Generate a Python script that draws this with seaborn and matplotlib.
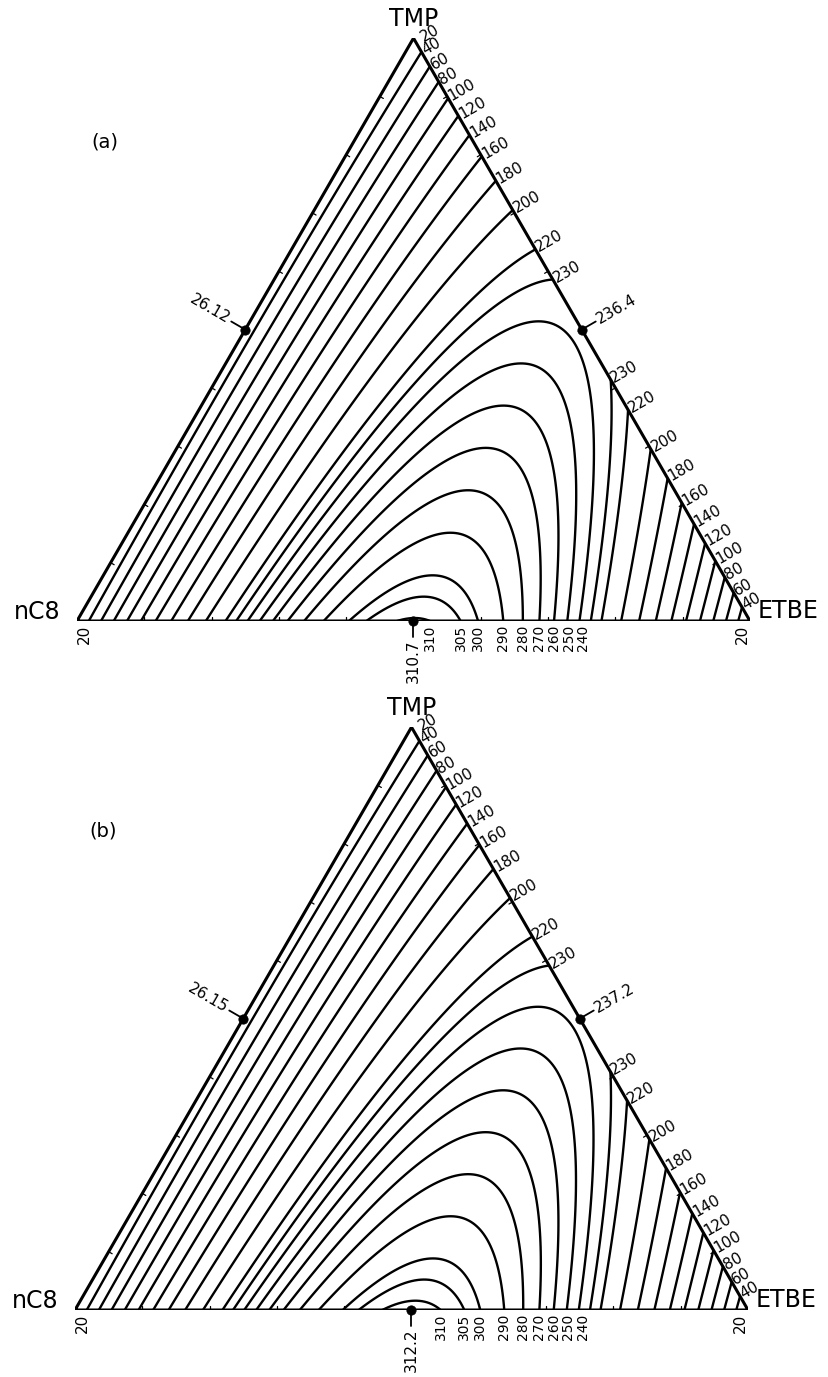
import numpy as np
import pandas as pd
import matplotlib
matplotlib.use("Agg")
import matplotlib.pyplot as plt
import matplotlib.tri as mtri
import seaborn as sns

# ---------------- data ----------------
panel_tags = ["(a)", "(b)"]
vertex_names = ["nC8", "TMP", "ETBE"]
vertex_value = 20.0                      # value at each pure-component corner
peak_nC8_TMP = [26.12, 26.15]            # binary maxima (at the 50/50 point)
peak_TMP_ETBE = [236.4, 237.2]
peak_nC8_ETBE = [310.7, 312.2]
contour_levels = [40, 60, 80, 100, 120, 140, 160, 180, 200, 220, 230,
                  240, 250, 260, 270, 280, 290, 300, 305, 310]
right_upper_labels = [40, 60, 80, 100, 120, 140, 160, 180, 200, 220, 230]
right_lower_labels = [230, 220, 200, 180, 160, 140, 120, 100, 80, 60, 40]
bottom_labels = [310, 305, 300, 290, 280, 270, 260, 250, 240]
edge_ticks = [0.1, 0.2, 0.3, 0.4, 0.5, 0.6, 0.7, 0.8, 0.9]

sns.set_theme(style="white")
plt.rcParams["font.family"] = ["DejaVu Sans"]
plt.rcParams["text.color"] = "black"

H = np.sqrt(3) / 2
W_PX, H_PX = 829, 1377
fig = plt.figure(figsize=(W_PX / 100, H_PX / 100), dpi=100)

# triangle placement (pixels): left-vertex x, bottom y
placements = [(77, 621), (75, 1310)]
SIDE = 673.0


def field(xn, xt, xe, p_nt, p_te, p_ne):
    v = vertex_value
    return (v + 4 * (p_nt - v) * xn * xt + 4 * (p_te - v) * xt * xe
            + 4 * (p_ne - v) * xn * xe)


def cart(xt, xe):
    return xe + 0.5 * xt, H * xt


# ternary grid
n = 240
pts = [(i / n, j / n) for i in range(n + 1) for j in range(n + 1 - i)]
XT = np.array([p[0] for p in pts])
XE = np.array([p[1] for p in pts])
XN = np.clip(1 - XT - XE, 0, 1)
GX, GY = cart(XT, XE)
triang = mtri.Triangulation(GX, GY)

for k in range(2):
    p_nt, p_te, p_ne = peak_nC8_TMP[k], peak_TMP_ETBE[k], peak_nC8_ETBE[k]
    left_px, bottom_px = placements[k]
    ax = fig.add_axes([left_px / W_PX, 1 - bottom_px / H_PX,
                       SIDE / W_PX, SIDE * H / H_PX])
    ax.set_xlim(0, 1)
    ax.set_ylim(0, H)
    ax.axis("off")

    F = field(XN, XT, XE, p_nt, p_te, p_ne)
    ax.tricontour(triang, F, levels=contour_levels, colors="black",
                  linewidths=1.7)

    # triangle outline
    outline = pd.DataFrame({"x": [0, 1, 0.5, 0], "y": [0, 0, H, 0],
                            "o": [0, 1, 2, 3]})
    sns.lineplot(data=outline, x="x", y="y", sort=False, estimator=None,
                 color="black", lw=2.2, ax=ax)
    ax.set_xlabel("")
    ax.set_ylabel("")

    # small inward ticks
    tl = 0.006
    for f in edge_ticks:
        ax.plot([f, f], [0, tl], color="black", lw=0.9)
        lx, ly = 0.5 * f, H * f
        ax.plot([lx, lx + 0.866 * tl], [ly, ly - 0.5 * tl], color="black", lw=0.9)
        rx, ry = 1 - 0.5 * f, H * f
        ax.plot([rx, rx - 0.866 * tl], [ry, ry - 0.5 * tl], color="black", lw=0.9)

    fs = 11
    # bottom edge labels (right-hand crossings); crowded ones nudged apart
    a_ne = 4 * (p_ne - vertex_value)
    min_gap = 14.5 / SIDE
    prev = -1.0
    for L in bottom_labels:
        t = 0.5 + np.sqrt(max(0.25 - (L - vertex_value) / a_ne, 0))
        t_lab = max(t, prev + min_gap)
        prev = t_lab
        ax.text(t_lab, -0.005, str(L), rotation=90, rotation_mode="anchor",
                ha="right", va="center", fontsize=10)
    ax.annotate("20", xy=(0, 0), xytext=(0, -3), textcoords="offset points",
                rotation=90, rotation_mode="anchor", ha="right", va="top",
                fontsize=fs, annotation_clip=False)
    ax.annotate("20", xy=(1, 0), xytext=(0, -3), textcoords="offset points",
                rotation=90, rotation_mode="anchor", ha="right", va="bottom",
                fontsize=fs, annotation_clip=False)

    # right edge labels
    a_te = 4 * (p_te - vertex_value)
    for L in right_upper_labels:
        s = 0.5 - np.sqrt(max(0.25 - (L - vertex_value) / a_te, 0))
        x, y = cart(1 - s, s)
        ax.annotate(str(L), xy=(x, y), xytext=(1.0, 0.6), textcoords="offset points",
                    rotation=30, rotation_mode="anchor", ha="left", va="center",
                    fontsize=fs, annotation_clip=False)
    for L in right_lower_labels:
        s = 0.5 + np.sqrt(max(0.25 - (L - vertex_value) / a_te, 0))
        x, y = cart(1 - s, s)
        ax.annotate(str(L), xy=(x, y), xytext=(1.0, 0.6), textcoords="offset points",
                    rotation=30, rotation_mode="anchor", ha="left", va="center",
                    fontsize=fs, annotation_clip=False)
    ax.annotate("20", xy=(0.5, H), xytext=(6, 0), textcoords="offset points",
                rotation=30, rotation_mode="anchor", ha="left", va="center",
                fontsize=fs, annotation_clip=False)

    # maxima markers
    dots = pd.DataFrame({"x": [0.25, 0.75, 0.5], "y": [H / 2, H / 2, 0]})
    sns.scatterplot(data=dots, x="x", y="y", color="black", s=45,
                    edgecolor="black", zorder=5, clip_on=False, ax=ax)
    ax.set_xlabel("")
    ax.set_ylabel("")
    ld = 0.024
    # left
    ax.plot([0.25, 0.25 - 0.866 * ld], [H / 2, H / 2 + 0.5 * ld], color="black",
            lw=1.3, clip_on=False)
    ax.text(0.25 - 0.866 * (ld + 0.004), H / 2 + 0.5 * (ld + 0.004), f"{p_nt:.2f}",
            rotation=-30, rotation_mode="anchor", ha="right", va="center",
            fontsize=fs)
    # right
    ax.plot([0.75, 0.75 + 0.866 * ld], [H / 2, H / 2 + 0.5 * ld], color="black",
            lw=1.3, clip_on=False)
    ax.text(0.75 + 0.866 * (ld + 0.003), H / 2 + 0.5 * (ld + 0.003), f"{p_te:.1f}",
            rotation=30, rotation_mode="anchor", ha="left", va="center",
            fontsize=fs)
    # bottom
    ax.plot([0.5, 0.5], [0, -ld], color="black", lw=1.3, clip_on=False)
    ax.text(0.5, -ld - 0.003, f"{p_ne:.1f}", rotation=90, rotation_mode="anchor",
            ha="right", va="center", fontsize=fs)

    # vertex names and panel tag
    ax.text(-0.025, 0.013, vertex_names[0], ha="right", va="center", fontsize=17)
    ax.text(0.5, H + 0.028, vertex_names[1], ha="center", va="center", fontsize=17)
    ax.text(1.011, 0.015, vertex_names[2], ha="left", va="center", fontsize=17)
    ax.text(0.042, 0.712, panel_tags[k], ha="center", va="center", fontsize=14)

fig.savefig("out.png", dpi=100, facecolor="white")
